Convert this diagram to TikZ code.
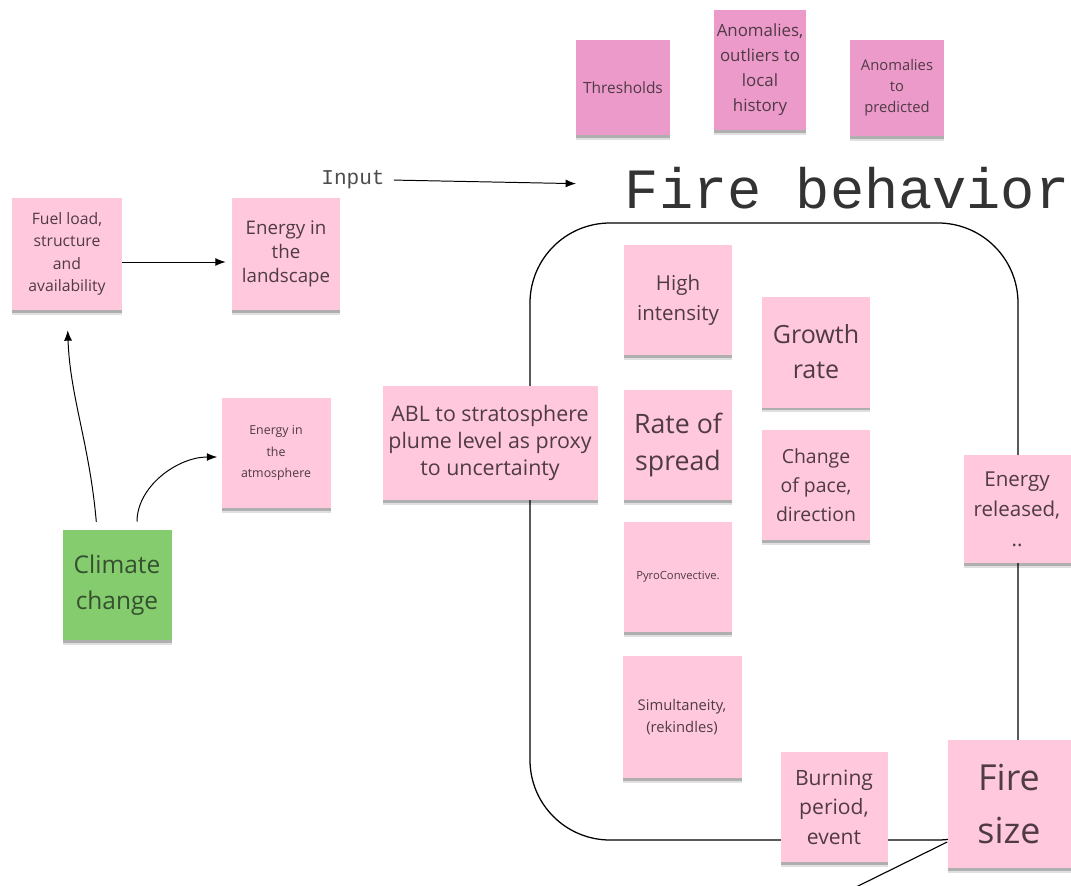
\documentclass[tikz,border=0pt]{standalone}
\usepackage{fontspec}
\setmainfont{Open Sans}
\newfontfamily\monofont{Liberation Mono}
\usetikzlibrary{arrows.meta,shadows}
\newlength\px
\setlength\px{0.025cm}
\definecolor{stickypink}{HTML}{FFC8DC}
\definecolor{stickyrose}{HTML}{EC9ACA}
\definecolor{stickygreen}{HTML}{84CC6E}
\definecolor{stickyink}{HTML}{4F3A46}
\definecolor{leafink}{HTML}{34502E}

\begin{document}
\begin{tikzpicture}[x=0.025cm, y=-0.025cm,
  sticky/.style={fill=stickypink, text=stickyink, align=center, inner sep=0pt,
    minimum width=108*\px, minimum height=110*\px,
    drop shadow={shadow xshift=0pt, shadow yshift=-3.5pt, opacity=0.12, fill=black},
    drop shadow={shadow xshift=0pt, shadow yshift=-2pt, opacity=0.22, fill=black}},
  wh/.style 2 args={minimum width=#1*\px, minimum height=#2*\px},
  fs/.style 2 args={font=\fontsize{#1}{#2}\selectfont},
  arr/.style={line width=0.7pt, -{Latex[length=2.6mm,width=2mm]}}]
\useasboundingbox (0,0) rectangle (1071,886);
% the fire behavior frame
\draw[line width=0.9pt, rounded corners=2cm] (530,223) rectangle (1018,840);
\node[anchor=base west, font=\monofont\fontsize{40.5}{40}\selectfont, text=black!80] (title) at (620,208) {Fire behavior};
\node[font=\monofont\fontsize{15}{15}\selectfont, text=black!70] (input) at (353,180) {Input};

% detection
\node[sticky, fill=stickyrose, wh={94}{95}, fs={11}{14}] (thresh) at (623,88) {Thresholds};
\node[sticky, fill=stickyrose, wh={92}{120}, fs={12}{17.8}] (outlier) at (760,70) {Anomalies,\\outliers  to\\local\\history};
\node[sticky, fill=stickyrose, wh={94}{96}, fs={10.5}{15}] (predict) at (897,88) {Anomalies\\to\\predicted};

% drivers
\node[sticky, wh={110}{112}, fs={11.2}{16}] (fuel) at (67,254) {Fuel load,\\structure\\and\\availability};
\node[sticky, wh={108}{112}, fs={13.3}{17}] (land) at (286,254) {Energy in\\the\\landscape};
\node[sticky, wh={109}{110}, fs={8.8}{15}] (atmo) at (276,453) {Energy in\\the\\atmosphere};
\node[sticky, fill=stickygreen, text=leafink, wh={109}{110}, fs={17.4}{25.6}] (clim) at (117,585) {Climate\\change};
\node[sticky, wh={215}{114}, fs={15.2}{19.5}] (abl) at (490,443) {ABL to stratosphere\\plume level as proxy\\to uncertainty};

% fire behavior notes
\node[sticky, fs={14.6}{21.3}] (intens) at (678,300) {High\\intensity};
\node[sticky, wh={108}{111}, fs={17.8}{25}] (growth) at (816,352) {Growth\\rate};
\node[sticky, fs={19}{26.3}] (spread) at (678,445) {Rate of\\spread};
\node[sticky, fs={13.8}{20.6}] (pace) at (816,485) {Change\\of pace,\\direction};
\node[sticky, fs={8}{11}] (pyro) at (678,577) {PyroConvective.};
\node[sticky, wh={119}{122}, fs={10.5}{15.6}] (simul) at (682,717) {Simultaneity,\\(rekindles)};
\node[sticky, wh={107}{108}, fs={14.6}{21.3}] (energy) at (1017,509) {Energy\\released,\\..};
\node[sticky, wh={107}{110}, fs={15}{21}] (burn) at (834,807) {Burning\\period,\\event};
\node[sticky, wh={123}{128}, fs={25.5}{37}] (size) at (1009,804) {Fire\\size};
\coordinate (cut) at (850,890);

% connectors
\draw[arr] (fuel.east) ++(0,8) coordinate (f1) (f1) -- ([xshift=-6*\px]land.west |- f1);
\draw[arr, shorten <=3pt] (input.east) -- ([xshift=-44*\px, yshift=4*\px]title.west);
\draw[arr, shorten <=8*\px, shorten >=20*\px] ([xshift=-20*\px]clim.north) to[out=95,in=-88] (fuel.south);
\draw[arr, shorten <=8*\px, shorten >=4*\px] ([xshift=20*\px]clim.north) to[out=90,in=180] ([yshift=-4*\px]atmo.west);
\draw[line width=0.8pt] ([yshift=-38*\px]size.west) -- (cut);
\end{tikzpicture}
\end{document}
